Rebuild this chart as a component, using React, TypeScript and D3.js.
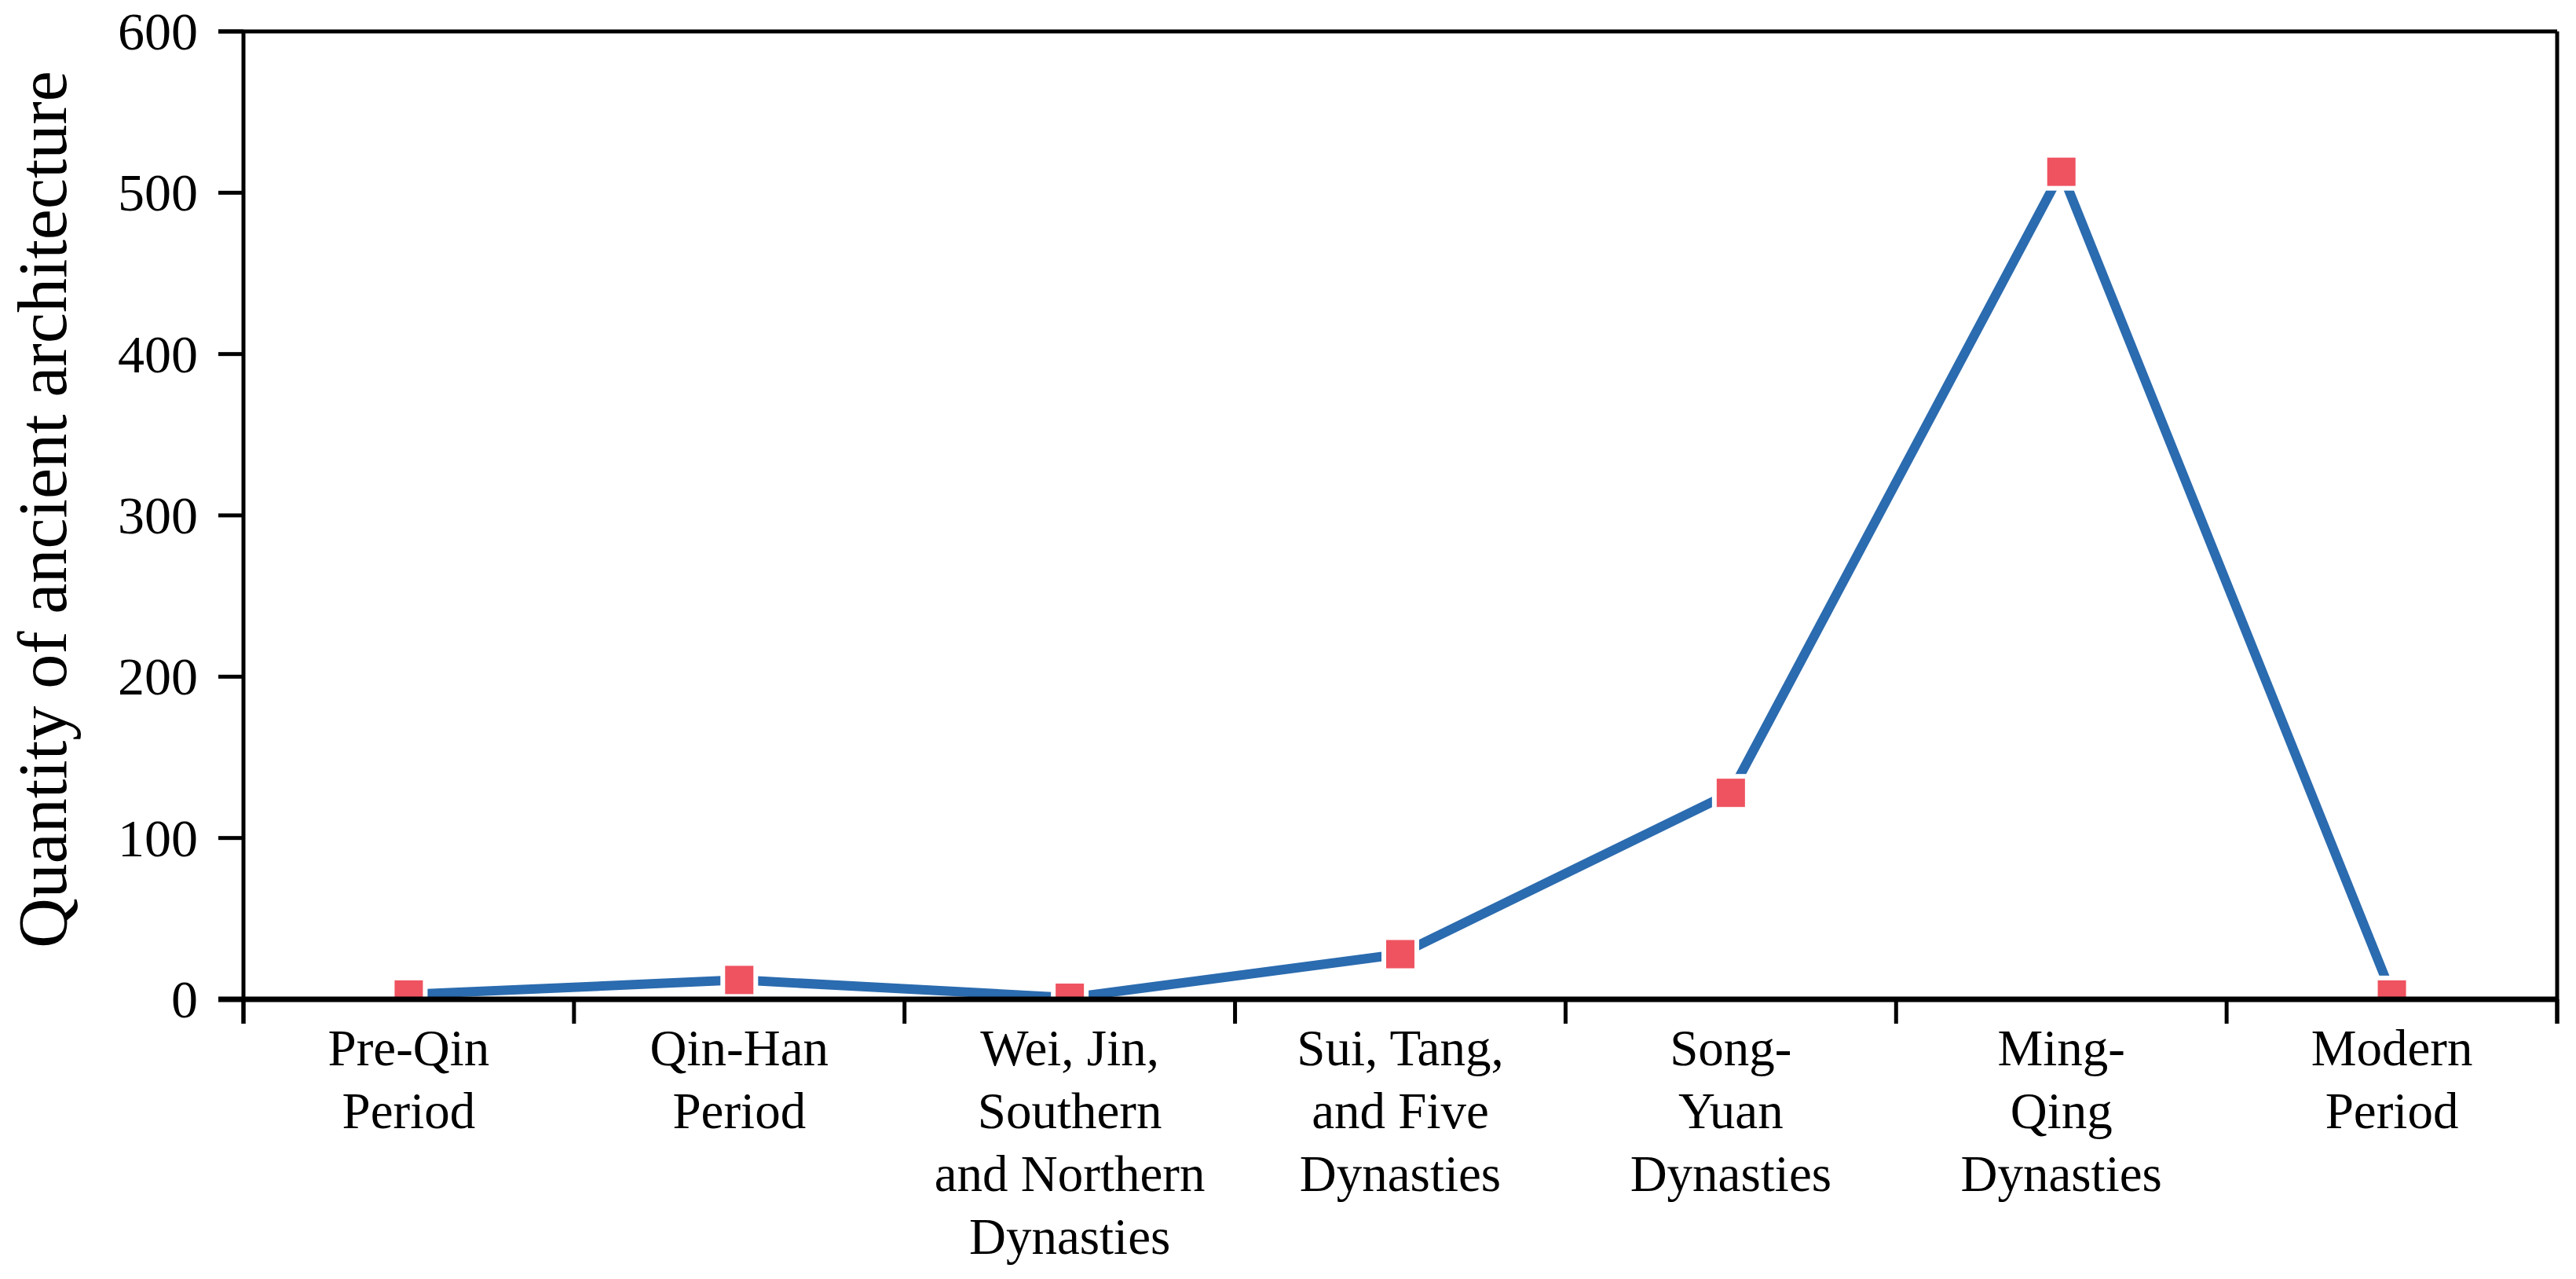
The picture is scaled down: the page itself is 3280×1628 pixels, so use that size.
import React from "react";
import * as d3 from "d3";

const categories: string[][] = [
  ["Pre-Qin", "Period"],
  ["Qin-Han", "Period"],
  ["Wei, Jin,", "Southern", "and Northern", "Dynasties"],
  ["Sui, Tang,", "and Five", "Dynasties"],
  ["Song-", "Yuan", "Dynasties"],
  ["Ming-", "Qing", "Dynasties"],
  ["Modern", "Period"],
];
const values: number[] = [3, 12, 1, 28, 128, 513, 3];
const yTicks: number[] = [0, 100, 200, 300, 400, 500, 600];
const yTitle = "Quantity of ancient architecture";

const W = 3280;
const H = 1628;
const left = 310;
const right = 3256;
const top = 40;
const bottom = 1272;
const font = "'Liberation Serif', 'Times New Roman', serif";

export default function App() {
  const idx = categories.map((_, i) => String(i));
  const x = d3.scaleBand<string>().domain(idx).range([left, right]).padding(0);
  const y = d3.scaleLinear().domain([0, 600]).range([bottom, top]);
  const line = d3
    .line<number>()
    .x((_, i) => (x(String(i)) as number) + x.bandwidth() / 2)
    .y((d) => y(d));
  const boundaries = d3.range(categories.length + 1).map((i) => left + i * x.bandwidth());
  const ms = 36;
  return (
    <svg
      width={W}
      height={H}
      viewBox={`0 0 ${W} ${H}`}
      style={{ position: "absolute", left: 0, top: 0, background: "#fff" }}
    >
      <defs>
        <clipPath id="plot">
          <rect x={left} y={top} width={right - left} height={bottom - top} />
        </clipPath>
      </defs>
      <rect x={0} y={0} width={W} height={H} fill="#fff" />
      <g clipPath="url(#plot)">
        <path d={line(values) || ""} fill="none" stroke="#2B6BAF" strokeWidth={12} strokeLinejoin="round" />
        {values.map((v, i) => {
          const cx = (x(String(i)) as number) + x.bandwidth() / 2;
          const cy = y(v);
          return (
            <g key={i}>
              <rect x={cx - ms / 2 - 6} y={cy - ms / 2 - 6} width={ms + 12} height={ms + 12} fill="#fff" />
              <rect x={cx - ms / 2} y={cy - ms / 2} width={ms} height={ms} fill="#EF5360" />
            </g>
          );
        })}
      </g>
      {/* frame */}
      <line x1={left - 32} x2={right} y1={top} y2={top} stroke="#000" strokeWidth={5} />
      <line x1={right} x2={right} y1={top} y2={bottom + 31} stroke="#000" strokeWidth={5} />
      <line x1={left} x2={left} y1={top} y2={bottom + 31} stroke="#000" strokeWidth={5} />
      <line x1={left - 32} x2={right} y1={bottom} y2={bottom} stroke="#000" strokeWidth={7} />
      {yTicks.map((t) => (
        <g key={t}>
          <line x1={left - 32} x2={left} y1={y(t)} y2={y(t)} stroke="#000" strokeWidth={5} />
          <text
            x={252}
            y={y(t)}
            textAnchor="end"
            dominantBaseline="central"
            fontFamily={font}
            fontSize={68}
            fill="#000"
          >
            {t}
          </text>
        </g>
      ))}
      {boundaries.map((b, i) => (
        <line key={i} x1={b} x2={b} y1={bottom} y2={bottom + 31} stroke="#000" strokeWidth={5} />
      ))}
      {categories.map((lines, i) => {
        const cx = (x(String(i)) as number) + x.bandwidth() / 2;
        return (
          <text key={i} textAnchor="middle" fontFamily={font} fontSize={65} fill="#000">
            {lines.map((l, j) => (
              <tspan key={j} x={cx} y={1356 + j * 80}>
                {l}
              </tspan>
            ))}
          </text>
        );
      })}
      <text
        transform={`translate(84, ${(88 + 1209) / 2}) rotate(-90)`}
        textAnchor="middle"
        fontFamily={font}
        fontSize={88}
        fill="#000"
      >
        {yTitle}
      </text>
    </svg>
  );
}
